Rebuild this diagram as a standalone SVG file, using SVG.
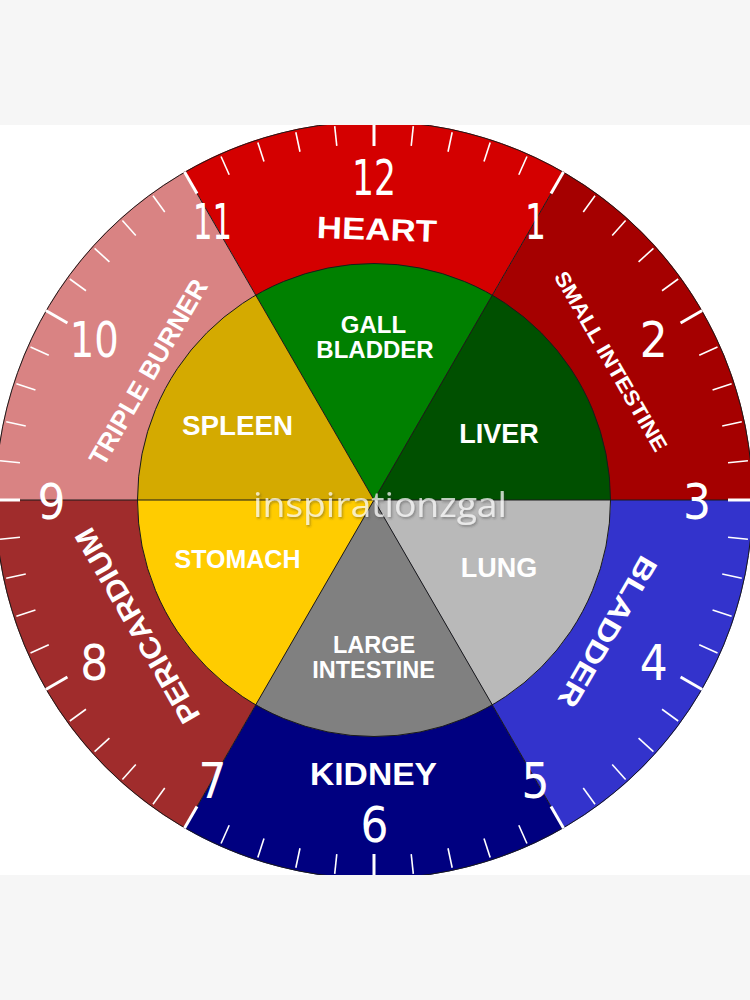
<svg xmlns="http://www.w3.org/2000/svg" xmlns:xlink="http://www.w3.org/1999/xlink" width="750" height="1000" viewBox="0 0 750 1000">
<style>
.lbl{font-family:"Liberation Sans",Arial,sans-serif;font-weight:bold;fill:#fff;text-anchor:middle}
.num{font-family:"DejaVu Sans",sans-serif;font-size:50px;fill:#fff;text-anchor:middle}
.sep{stroke:#1a1a1a;stroke-width:1;fill:none}
.mt{stroke:#fff;stroke-width:1.6}
.ht{stroke:#fff;stroke-width:3}
.wm{font-family:"Open Sans","DejaVu Sans",sans-serif;font-size:34px;fill:#fff;fill-opacity:0.72;text-anchor:middle}
</style>
<defs>
<clipPath id="band"><rect x="0" y="125" width="750" height="750"/></clipPath>
<clipPath id="disc"><circle cx="374" cy="500" r="379"/></clipPath>
<line id="m" x1="374" y1="124" x2="374" y2="144" class="mt"/>
<line id="h" x1="374" y1="120" x2="374" y2="146" class="ht"/>
<filter id="sh" x="-10%" y="-30%" width="120%" height="160%"><feDropShadow dx="1.2" dy="1.6" stdDeviation="0.8" flood-color="#333" flood-opacity="0.55"/></filter>
</defs>
<rect x="0" y="0" width="750" height="1000" fill="#f6f6f6"/>
<rect x="0" y="125" width="750" height="750" fill="#fff"/>
<g clip-path="url(#band)">
<g id="heart"><path d="M374,500 L563.5,171.8 A379,379 0 0 0 184.5,171.8 Z" fill="#d40000"/></g>
<g id="small-intestine"><path d="M374,500 L753,500 A379,379 0 0 0 563.5,171.8 Z" fill="#a50000"/></g>
<g id="bladder"><path d="M374,500 L563.5,828.2 A379,379 0 0 0 753,500 Z" fill="#3333cc"/></g>
<g id="kidney"><path d="M374,500 L184.5,828.2 A379,379 0 0 0 563.5,828.2 Z" fill="#000080"/></g>
<g id="pericardium"><path d="M374,500 L-5,500 A379,379 0 0 0 184.5,828.2 Z" fill="#a02c2c"/></g>
<g id="triple-burner"><path d="M374,500 L184.5,171.8 A379,379 0 0 0 -5,500 Z" fill="#d98383"/></g>
<g id="gall-bladder"><path d="M374,500 L492.25,295.2 A236.5,236.5 0 0 0 255.75,295.2 Z" fill="#008000"/></g>
<g id="liver"><path d="M374,500 L610.5,500 A236.5,236.5 0 0 0 492.25,295.2 Z" fill="#005000"/></g>
<g id="lung"><path d="M374,500 L492.25,704.8 A236.5,236.5 0 0 0 610.5,500 Z" fill="#b9b9b9"/></g>
<g id="large-intestine"><path d="M374,500 L255.75,704.8 A236.5,236.5 0 0 0 492.25,704.8 Z" fill="#808080"/></g>
<g id="stomach"><path d="M374,500 L137.5,500 A236.5,236.5 0 0 0 255.75,704.8 Z" fill="#ffcc00"/></g>
<g id="spleen"><path d="M374,500 L255.75,295.2 A236.5,236.5 0 0 0 137.5,500 Z" fill="#d4aa00"/></g>
<g id="connectors" class="sep">
<path d="M-5,500 H753"/>
<path d="M563.5,171.8 L184.5,828.2"/>
<path d="M184.5,171.8 L563.5,828.2"/>
<circle cx="374" cy="500" r="236.5"/>
<circle cx="374" cy="500" r="378.5"/>
</g>
<g id="ticks" clip-path="url(#disc)">
<use xlink:href="#h" transform="rotate(0 374 500)"/>
<use xlink:href="#m" transform="rotate(6 374 500)"/>
<use xlink:href="#m" transform="rotate(12 374 500)"/>
<use xlink:href="#m" transform="rotate(18 374 500)"/>
<use xlink:href="#m" transform="rotate(24 374 500)"/>
<use xlink:href="#h" transform="rotate(30 374 500)"/>
<use xlink:href="#m" transform="rotate(36 374 500)"/>
<use xlink:href="#m" transform="rotate(42 374 500)"/>
<use xlink:href="#m" transform="rotate(48 374 500)"/>
<use xlink:href="#m" transform="rotate(54 374 500)"/>
<use xlink:href="#h" transform="rotate(60 374 500)"/>
<use xlink:href="#m" transform="rotate(66 374 500)"/>
<use xlink:href="#m" transform="rotate(72 374 500)"/>
<use xlink:href="#m" transform="rotate(78 374 500)"/>
<use xlink:href="#m" transform="rotate(84 374 500)"/>
<use xlink:href="#h" transform="rotate(90 374 500)"/>
<use xlink:href="#m" transform="rotate(96 374 500)"/>
<use xlink:href="#m" transform="rotate(102 374 500)"/>
<use xlink:href="#m" transform="rotate(108 374 500)"/>
<use xlink:href="#m" transform="rotate(114 374 500)"/>
<use xlink:href="#h" transform="rotate(120 374 500)"/>
<use xlink:href="#m" transform="rotate(126 374 500)"/>
<use xlink:href="#m" transform="rotate(132 374 500)"/>
<use xlink:href="#m" transform="rotate(138 374 500)"/>
<use xlink:href="#m" transform="rotate(144 374 500)"/>
<use xlink:href="#h" transform="rotate(150 374 500)"/>
<use xlink:href="#m" transform="rotate(156 374 500)"/>
<use xlink:href="#m" transform="rotate(162 374 500)"/>
<use xlink:href="#m" transform="rotate(168 374 500)"/>
<use xlink:href="#m" transform="rotate(174 374 500)"/>
<use xlink:href="#h" transform="rotate(180 374 500)"/>
<use xlink:href="#m" transform="rotate(186 374 500)"/>
<use xlink:href="#m" transform="rotate(192 374 500)"/>
<use xlink:href="#m" transform="rotate(198 374 500)"/>
<use xlink:href="#m" transform="rotate(204 374 500)"/>
<use xlink:href="#h" transform="rotate(210 374 500)"/>
<use xlink:href="#m" transform="rotate(216 374 500)"/>
<use xlink:href="#m" transform="rotate(222 374 500)"/>
<use xlink:href="#m" transform="rotate(228 374 500)"/>
<use xlink:href="#m" transform="rotate(234 374 500)"/>
<use xlink:href="#h" transform="rotate(240 374 500)"/>
<use xlink:href="#m" transform="rotate(246 374 500)"/>
<use xlink:href="#m" transform="rotate(252 374 500)"/>
<use xlink:href="#m" transform="rotate(258 374 500)"/>
<use xlink:href="#m" transform="rotate(264 374 500)"/>
<use xlink:href="#h" transform="rotate(270 374 500)"/>
<use xlink:href="#m" transform="rotate(276 374 500)"/>
<use xlink:href="#m" transform="rotate(282 374 500)"/>
<use xlink:href="#m" transform="rotate(288 374 500)"/>
<use xlink:href="#m" transform="rotate(294 374 500)"/>
<use xlink:href="#h" transform="rotate(300 374 500)"/>
<use xlink:href="#m" transform="rotate(306 374 500)"/>
<use xlink:href="#m" transform="rotate(312 374 500)"/>
<use xlink:href="#m" transform="rotate(318 374 500)"/>
<use xlink:href="#m" transform="rotate(324 374 500)"/>
<use xlink:href="#h" transform="rotate(330 374 500)"/>
<use xlink:href="#m" transform="rotate(336 374 500)"/>
<use xlink:href="#m" transform="rotate(342 374 500)"/>
<use xlink:href="#m" transform="rotate(348 374 500)"/>
<use xlink:href="#m" transform="rotate(354 374 500)"/>
</g>
</g>
<g id="numbers" class="num">
<text x="374" y="195" textLength="44" lengthAdjust="spacingAndGlyphs">12</text>
<text x="535.5" y="238.8" textLength="21" lengthAdjust="spacingAndGlyphs">1</text>
<text x="653.7" y="357" textLength="28" lengthAdjust="spacingAndGlyphs">2</text>
<text x="697" y="518.5" textLength="28" lengthAdjust="spacingAndGlyphs">3</text>
<text x="653.7" y="680" textLength="28" lengthAdjust="spacingAndGlyphs">4</text>
<text x="535.5" y="798.2" textLength="28" lengthAdjust="spacingAndGlyphs">5</text>
<text x="374.5" y="841.5" textLength="28" lengthAdjust="spacingAndGlyphs">6</text>
<text x="212.5" y="798.2" textLength="28" lengthAdjust="spacingAndGlyphs">7</text>
<text x="94.3" y="680" textLength="28" lengthAdjust="spacingAndGlyphs">8</text>
<text x="51.5" y="518.5" textLength="28" lengthAdjust="spacingAndGlyphs">9</text>
<text x="94.3" y="357" textLength="49" lengthAdjust="spacingAndGlyphs">10</text>
<text x="212.5" y="238.8" textLength="39" lengthAdjust="spacingAndGlyphs">11</text>
</g>
<g id="labels" class="lbl">
<text x="377" y="240" font-size="31" textLength="120" lengthAdjust="spacingAndGlyphs" transform="rotate(2 377 228)">HEART</text>
<text x="373.5" y="785" font-size="32" textLength="127" lengthAdjust="spacingAndGlyphs">KIDNEY</text>
<text transform="translate(611,361) rotate(60)" x="0" y="7.5" font-size="21" textLength="204" lengthAdjust="spacingAndGlyphs">SMALL INTESTINE</text>
<text transform="translate(608,632) rotate(120)" x="0" y="10" font-size="28" textLength="170" lengthAdjust="spacingAndGlyphs">BLADDER</text>
<text transform="translate(137,626) rotate(-120)" x="0" y="10.4" font-size="29" textLength="220" lengthAdjust="spacingAndGlyphs">PERICARDIUM</text>
<text transform="translate(148,372) rotate(-60)" x="0" y="9.3" font-size="26" textLength="210" lengthAdjust="spacingAndGlyphs">TRIPLE BURNER</text>
<text x="373.5" y="333" font-size="24">GALL</text>
<text x="375" y="358" font-size="24">BLADDER</text>
<text x="237.5" y="435" font-size="27" textLength="111" lengthAdjust="spacingAndGlyphs">SPLEEN</text>
<text x="499" y="443" font-size="27">LIVER</text>
<text x="237.5" y="568" font-size="25">STOMACH</text>
<text x="499" y="577" font-size="27">LUNG</text>
<text x="374" y="653" font-size="23.5">LARGE</text>
<text x="373.5" y="678" font-size="23.5">INTESTINE</text>
</g>
<g id="watermark">
<text class="wm" x="380" y="517" textLength="254" lengthAdjust="spacingAndGlyphs" filter="url(#sh)">inspirationzgal</text>
</g>
</svg>
